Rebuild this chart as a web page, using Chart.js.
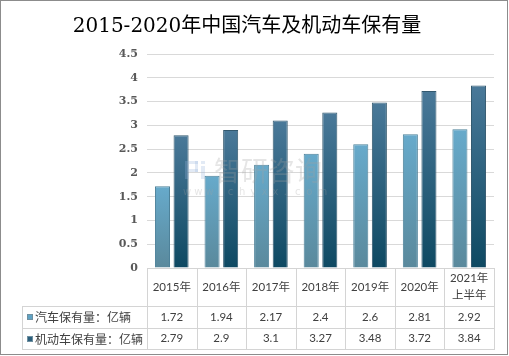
<!DOCTYPE html>
<html>
<head>
<meta charset="utf-8">
<script src="https://cdn.jsdelivr.net/npm/chart.js@4/dist/chart.umd.min.js"></script>
<style>
html,body{margin:0;padding:0;background:#fff;}
#wrap{width:509px;height:356px;position:relative;}
</style>
</head>
<body>
<div id="wrap"><canvas id="c" width="509" height="356"></canvas></div>
<script>
const titleText = "2015-2020年中国汽车及机动车保有量";
const categories = ["2015年", "2016年", "2017年", "2018年", "2019年", "2020年", "2021年\n上半年"];
const seriesNames = ["汽车保有量：亿辆", "机动车保有量：亿辆"];
const carValues = [1.72, 1.94, 2.17, 2.4, 2.6, 2.81, 2.92];
const motorValues = [2.79, 2.9, 3.1, 3.27, 3.48, 3.72, 3.84];
const tableCar = ["1.72", "1.94", "2.17", "2.4", "2.6", "2.81", "2.92"];
const tableMotor = ["2.79", "2.9", "3.1", "3.27", "3.48", "3.72", "3.84"];

const gradStops = [["#67AACB", "#5A899C"], ["#4A7999", "#0E4962"]];
const markerColors = ["#5FA3C4", "#2C5F7C"];

function barGradient(di) {
  return function (ctx) {
    const chart = ctx.chart;
    const y = chart.scales && chart.scales.y;
    if (!y || ctx.raw == null || !chart.chartArea) return gradStops[di][0];
    const top = y.getPixelForValue(ctx.raw);
    const bottom = y.getPixelForValue(0);
    const g = chart.ctx.createLinearGradient(0, top, 0, bottom);
    g.addColorStop(0, gradStops[di][0]);
    g.addColorStop(1, gradStops[di][1]);
    return g;
  };
}

const tablePlugin = {
  id: "tablePlugin",
  afterDatasetsDraw(chart) {
    const c = chart.ctx;
    // watermark
    c.save();
    c.fillStyle = "rgba(150,180,220,0.28)";
    c.fillRect(185, 161, 4, 18);
    c.fillRect(189, 161, 9, 3);
    c.fillRect(189, 169, 9, 3);
    c.fillRect(195, 161, 3, 11);
    c.fillRect(201, 161, 4, 3);
    c.fillRect(201, 166, 4, 13);
    c.fillStyle = "rgba(160,160,160,0.28)";
    c.font = "27px 'Noto Sans CJK SC'";
    c.textBaseline = "middle";
    c.textAlign = "left";
    c.fillText("智研咨询", 214, 171);
    c.font = "10px 'DejaVu Sans'";
    const wm = "www.chyxx.com";
    for (let i = 0; i < wm.length; i++) {
      c.fillText(wm[i], 183 + i * 11.2, 192);
    }
    c.restore();
  },
  afterDraw(chart) {
    const c = chart.ctx;
    const xs = chart.scales.x;
    const area = chart.chartArea;
    const n = categories.length;
    const cw = (area.right - area.left) / n;
    const yTop = area.bottom;
    const r1 = yTop + 38, r2 = r1 + 22, r3 = r2 + 21;
    const legL = 22;
    c.save();
    c.strokeStyle = "#D4D4D4";
    c.lineWidth = 1;
    c.beginPath();
    const hl = (x1, x2, y) => { c.moveTo(x1, Math.round(y) + 0.5); c.lineTo(x2, Math.round(y) + 0.5); };
    const vl = (x, y1, y2) => { c.moveTo(Math.round(x) + 0.5, y1); c.lineTo(Math.round(x) + 0.5, y2); };
    hl(area.left, area.right, yTop);
    hl(legL, area.right, r1);
    hl(legL, area.right, r2);
    hl(legL, area.right, r3);
    vl(legL, r1, r3 + 1);
    for (let i = 0; i <= n; i++) {
      vl(area.left + i * cw, yTop, r3 + 1);
    }
    c.stroke();

    c.fillStyle = "#404040";
    c.textAlign = "center";
    c.textBaseline = "middle";
    c.font = "11.5px 'Lato', 'Noto Sans CJK SC', sans-serif";
    for (let i = 0; i < n; i++) {
      const cx = xs.getPixelForValue(i);
      const lines = categories[i].split("\n");
      const mid = (yTop + r1) / 2;
      const lh = 16.5;
      lines.forEach((ln, k) => {
        c.fillText(ln, cx, mid + (k - (lines.length - 1) / 2) * lh);
      });
      c.fillText(tableCar[i], cx, (r1 + r2) / 2);
      c.fillText(tableMotor[i], cx, (r2 + r3) / 2);
    }
    // legend cells
    c.textAlign = "left";
    c.font = "12px 'Noto Sans CJK SC'";
    const rows = [(r1 + r2) / 2, (r2 + r3) / 2];
    rows.forEach((ry, k) => {
      c.fillStyle = markerColors[k];
      c.fillRect(27, Math.round(ry) - 3, 6, 6);
      c.strokeStyle = "#6E8FA0";
      c.strokeRect(27.5, Math.round(ry) - 2.5, 5, 5);
      c.fillStyle = "#404040";
      c.fillText(seriesNames[k], 35, ry + 0.5);
    });
    // outer border
    c.strokeStyle = "#8C8C8C";
    c.lineWidth = 1;
    c.strokeRect(0.5, 0.5, 507, 354);
    c.restore();
  }
};

new Chart(document.getElementById("c"), {
  type: "bar",
  data: {
    labels: categories,
    datasets: [
      {
        label: seriesNames[0],
        data: carValues,
        backgroundColor: barGradient(0),
        borderColor: "#4D8199",
        borderWidth: 1
      },
      {
        label: seriesNames[1],
        data: motorValues,
        backgroundColor: barGradient(1),
        borderColor: "#33596F",
        borderWidth: 1
      }
    ]
  },
  options: {
    responsive: false,
    animation: false,
    categoryPercentage: 0.75,
    barPercentage: 0.81,
    layout: { padding: { left: 0, right: 15, top: 0, bottom: 88 } },
    plugins: {
      legend: { display: false },
      tooltip: { enabled: false },
      title: {
        display: true,
        text: titleText,
        color: "#000000",
        font: { family: "'DejaVu Serif', 'Noto Sans CJK SC'", size: 20, weight: "normal" },
        padding: { top: 15, bottom: 15 }
      }
    },
    scales: {
      x: {
        display: false,
        offset: true
      },
      y: {
        min: 0,
        max: 4.5,
        afterFit(scale) { scale.width = 147; },
        border: { display: false },
        grid: { color: "#D9D9D9", drawTicks: false },
        ticks: {
          stepSize: 0.5,
          padding: 9,
          color: "#595959",
          callback: (v) => String(Math.round(v * 10) / 10),
          font: { family: "'DejaVu Serif'", size: 11, weight: "bold" }
        }
      }
    }
  },
  plugins: [tablePlugin]
});
</script>
</body>
</html>
